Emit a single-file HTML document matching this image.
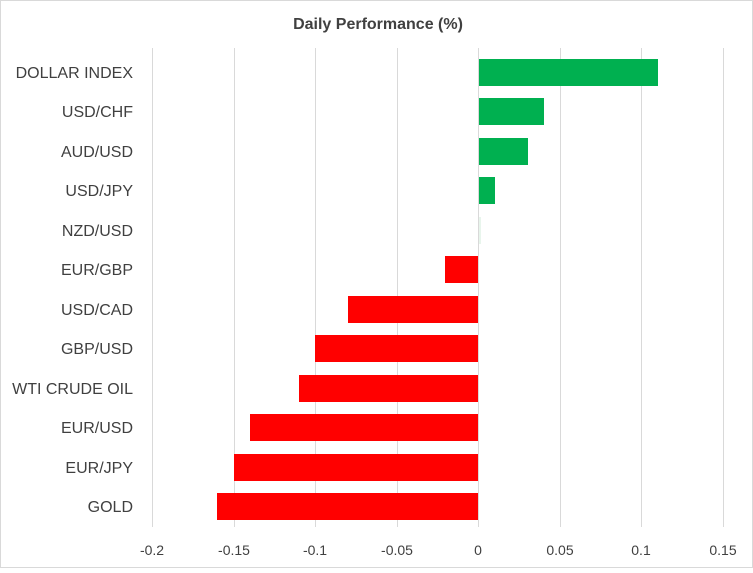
<!DOCTYPE html>
<html><head><meta charset="utf-8"><style>
html,body{margin:0;padding:0;background:#fff}
</style></head><body>
<svg width="753" height="568" xmlns="http://www.w3.org/2000/svg" font-family="Liberation Sans, sans-serif">
<rect x="0.5" y="0.5" width="752" height="567" fill="#fff" stroke="#d9d9d9"/>
<text x="378" y="29" text-anchor="middle" font-size="16" font-weight="bold" fill="#404040">Daily Performance  (%)</text>
<g stroke="#d9d9d9" stroke-width="1">
<line x1="152.5" y1="48" x2="152.5" y2="527"/>
<line x1="234.5" y1="48" x2="234.5" y2="527"/>
<line x1="315.5" y1="48" x2="315.5" y2="527"/>
<line x1="397.5" y1="48" x2="397.5" y2="527"/>
<line x1="560.5" y1="48" x2="560.5" y2="527"/>
<line x1="641.5" y1="48" x2="641.5" y2="527"/>
<line x1="723.5" y1="48" x2="723.5" y2="527"/>
</g>
<g fill="#00b050">
<rect x="478" y="59" width="180" height="27"/>
<rect x="478" y="98" width="66" height="27"/>
<rect x="478" y="138" width="50" height="27"/>
<rect x="478" y="177" width="17" height="27"/>
<rect x="478" y="217" width="3" height="27" fill="#e8f5ec"/>
</g>
<g fill="#ff0000">
<rect x="445" y="256" width="33" height="27"/>
<rect x="348" y="296" width="130" height="27"/>
<rect x="315" y="335" width="163" height="27"/>
<rect x="299" y="375" width="179" height="27"/>
<rect x="250" y="414" width="228" height="27"/>
<rect x="234" y="454" width="244" height="27"/>
<rect x="217" y="493" width="261" height="27"/>
</g>
<line x1="478.5" y1="48" x2="478.5" y2="527" stroke="#d9d9d9"/>
<g font-size="16" fill="#404040" text-anchor="end">
<text x="133" y="78">DOLLAR INDEX</text>
<text x="133" y="117">USD/CHF</text>
<text x="133" y="157">AUD/USD</text>
<text x="133" y="196">USD/JPY</text>
<text x="133" y="236">NZD/USD</text>
<text x="133" y="275">EUR/GBP</text>
<text x="133" y="315">USD/CAD</text>
<text x="133" y="354">GBP/USD</text>
<text x="133" y="394">WTI CRUDE OIL</text>
<text x="133" y="433">EUR/USD</text>
<text x="133" y="473">EUR/JPY</text>
<text x="133" y="512">GOLD</text>
</g>
<g font-size="14" fill="#404040" text-anchor="middle">
<text x="152" y="555">-0.2</text>
<text x="234" y="555">-0.15</text>
<text x="315" y="555">-0.1</text>
<text x="397" y="555">-0.05</text>
<text x="478" y="555">0</text>
<text x="560" y="555">0.05</text>
<text x="641" y="555">0.1</text>
<text x="723" y="555">0.15</text>
</g>
</svg>
</body></html>
